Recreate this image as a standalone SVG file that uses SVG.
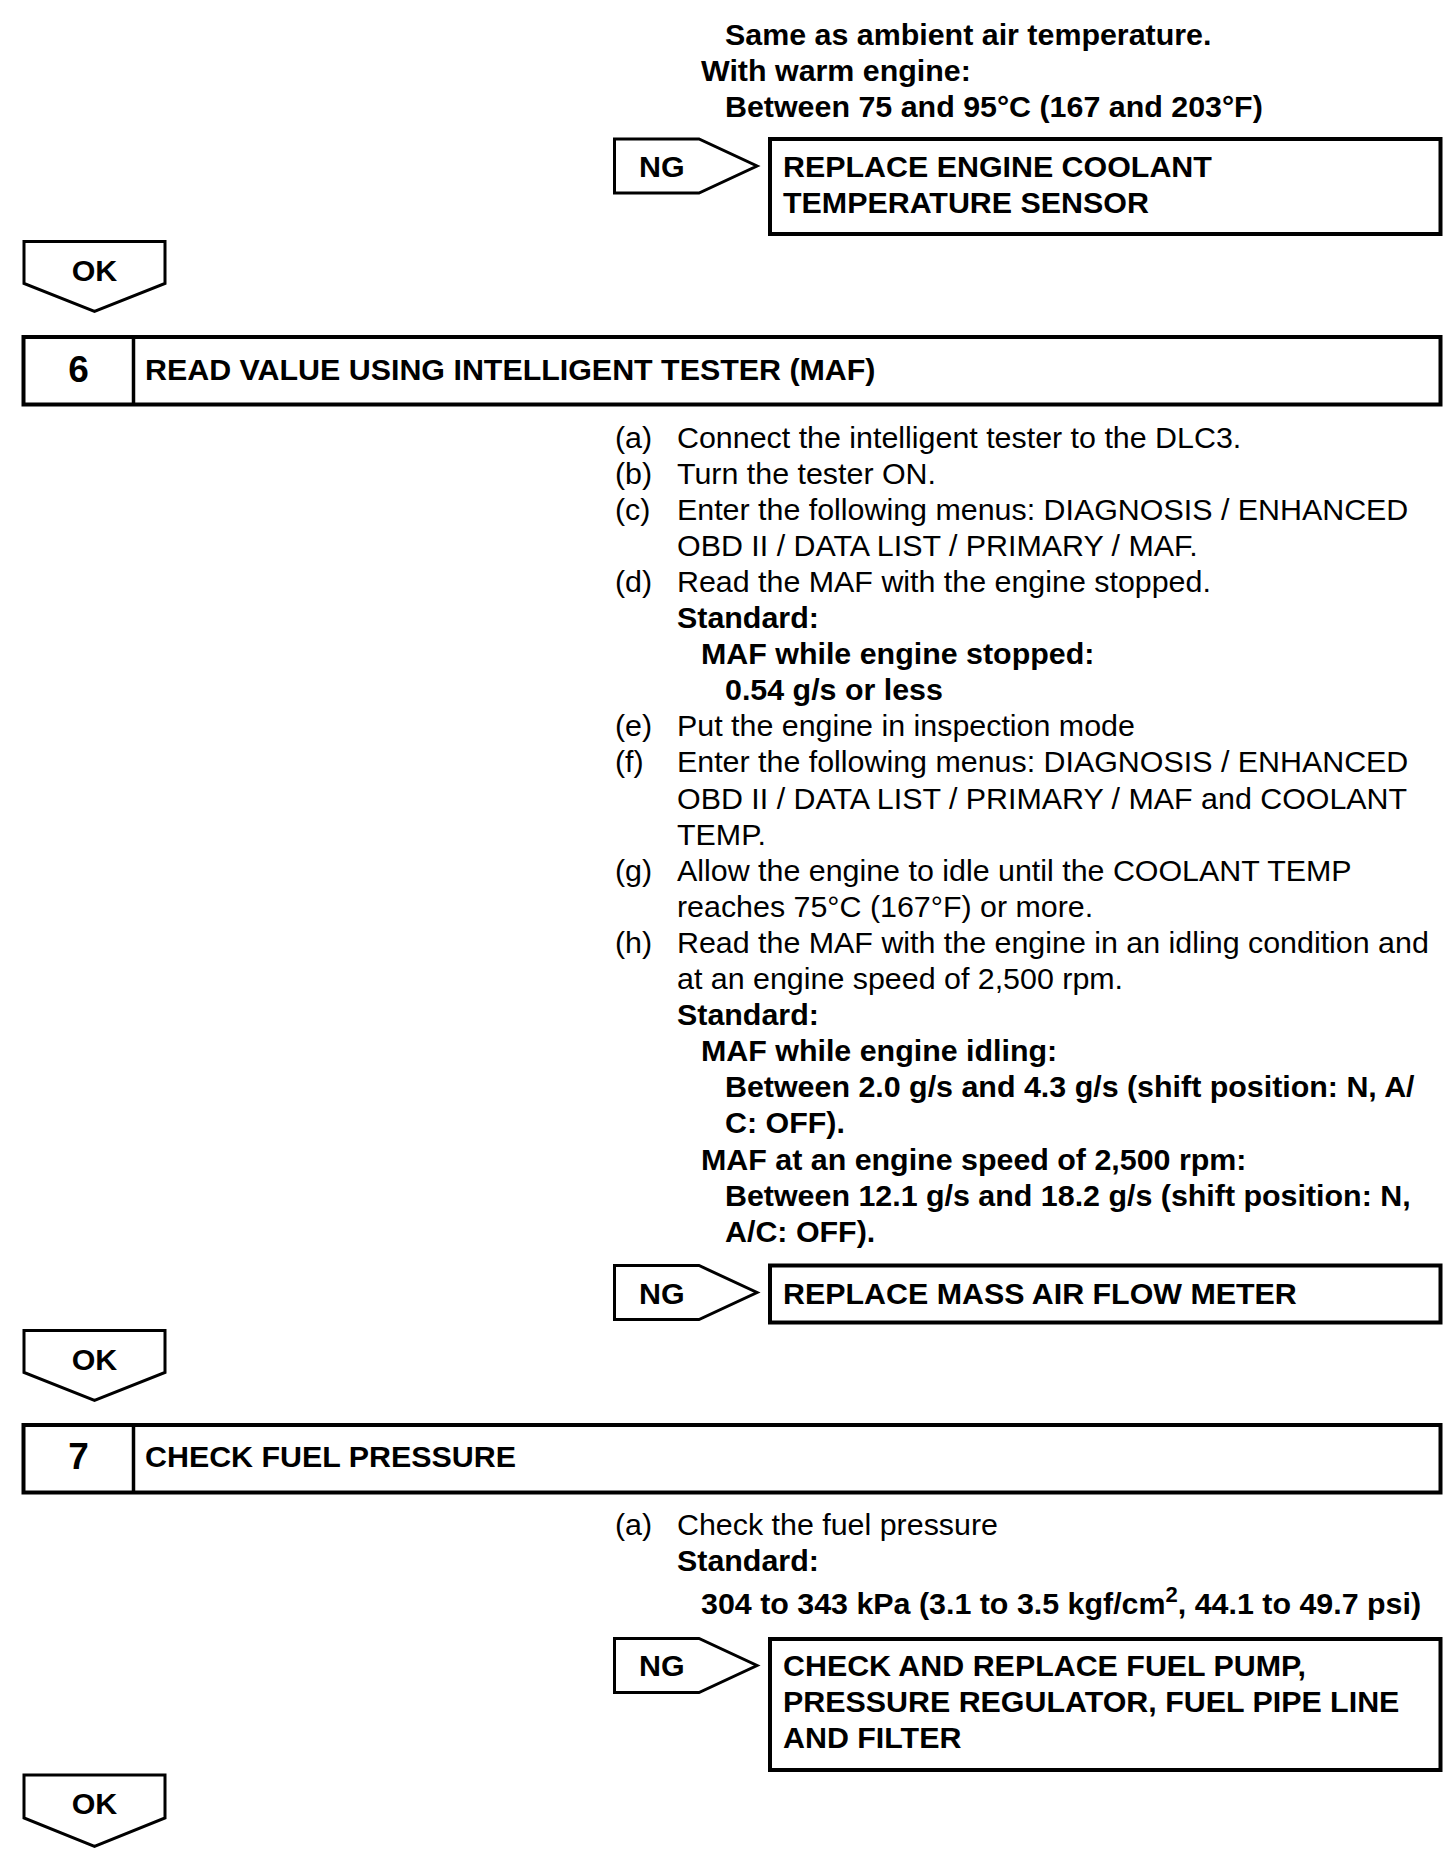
<svg xmlns="http://www.w3.org/2000/svg" width="1456" height="1854" viewBox="0 0 1456 1854">
<style>
text{font-family:"Liberation Sans",Arial,Helvetica,sans-serif;font-size:30.4px;fill:#000}
.b{font-weight:bold}
.num{font-size:37px}
.box{fill:#fff;stroke:#000;stroke-width:4}
.hd{fill:#fff;stroke:#000;stroke-width:4}
.arr{fill:#fff;stroke:#000;stroke-width:3;stroke-linejoin:miter}
.c{text-anchor:middle}
</style>
<rect width="1456" height="1854" fill="#fff"/>

<g id="spec5">
<text class="b" x="725" y="45">Same as ambient air temperature.</text>
<text class="b" x="701" y="81">With warm engine:</text>
<text class="b" x="725" y="117">Between 75 and 95°C (167 and 203°F)</text>
</g>

<g id="ng-result-5">
<rect class="box" x="770" y="139" width="670.5" height="95"/>
<text class="b" x="783" y="177">REPLACE ENGINE COOLANT</text>
<text class="b" x="783" y="213">TEMPERATURE SENSOR</text>
</g>

<g id="step6">
<rect class="hd" x="23.5" y="337" width="1417" height="67.5"/>
<line x1="133.5" y1="337" x2="133.5" y2="404.5" stroke="#000" stroke-width="3.5"/>
<text class="b c num" x="78.5" y="382">6</text>
<text class="b" x="145" y="380">READ VALUE USING INTELLIGENT TESTER (MAF)</text>
</g>

<g id="step6-body">
<text x="615" y="447.5">(a)</text><text x="677" y="447.5">Connect the intelligent tester to the DLC3.</text>
<text x="615" y="483.6">(b)</text><text x="677" y="483.6">Turn the tester ON.</text>
<text x="615" y="519.7">(c)</text><text x="677" y="519.7">Enter the following menus: DIAGNOSIS / ENHANCED</text>
<text x="677" y="555.8">OBD II / DATA LIST / PRIMARY / MAF.</text>
<text x="615" y="591.9">(d)</text><text x="677" y="591.9">Read the MAF with the engine stopped.</text>
<text class="b" x="677" y="628">Standard:</text>
<text class="b" x="701" y="664.1">MAF while engine stopped:</text>
<text class="b" x="725" y="700.2">0.54 g/s or less</text>
<text x="615" y="736.3">(e)</text><text x="677" y="736.3">Put the engine in inspection mode</text>
<text x="615" y="772.4">(f)</text><text x="677" y="772.4">Enter the following menus: DIAGNOSIS / ENHANCED</text>
<text x="677" y="808.5">OBD II / DATA LIST / PRIMARY / MAF and COOLANT</text>
<text x="677" y="844.6">TEMP.</text>
<text x="615" y="880.7">(g)</text><text x="677" y="880.7">Allow the engine to idle until the COOLANT TEMP</text>
<text x="677" y="916.8">reaches 75°C (167°F) or more.</text>
<text x="615" y="952.9">(h)</text><text x="677" y="952.9">Read the MAF with the engine in an idling condition and</text>
<text x="677" y="989">at an engine speed of 2,500 rpm.</text>
<text class="b" x="677" y="1025.1">Standard:</text>
<text class="b" x="701" y="1061.2">MAF while engine idling:</text>
<text class="b" x="725" y="1097.3">Between 2.0 g/s and 4.3 g/s (shift position: N, A/</text>
<text class="b" x="725" y="1133.4">C: OFF).</text>
<text class="b" x="701" y="1169.5">MAF at an engine speed of 2,500 rpm:</text>
<text class="b" x="725" y="1205.6">Between 12.1 g/s and 18.2 g/s (shift position: N,</text>
<text class="b" x="725" y="1241.7">A/C: OFF).</text>
</g>

<g id="ng-result-6">
<rect class="box" x="770" y="1265.5" width="670.5" height="57"/>
<text class="b" x="783" y="1304">REPLACE MASS AIR FLOW METER</text>
</g>

<g id="step7">
<rect class="hd" x="23.5" y="1425" width="1417" height="67.5"/>
<line x1="133.5" y1="1425" x2="133.5" y2="1492.5" stroke="#000" stroke-width="3.5"/>
<text class="b c num" x="78.5" y="1469">7</text>
<text class="b" x="145" y="1467">CHECK FUEL PRESSURE</text>
</g>

<g id="step7-body">
<text x="615" y="1535">(a)</text><text x="677" y="1535">Check the fuel pressure</text>
<text class="b" x="677" y="1571">Standard:</text>
<text class="b" x="701" y="1614">304 to 343 kPa (3.1 to 3.5 kgf/cm<tspan dy="-12" font-size="22">2</tspan><tspan dy="12">, 44.1 to 49.7 psi)</tspan></text>
</g>

<g id="ng-result-7">
<rect class="box" x="770" y="1639" width="670.5" height="131"/>
<text class="b" x="783" y="1676">CHECK AND REPLACE FUEL PUMP,</text>
<text class="b" x="783" y="1712">PRESSURE REGULATOR, FUEL PIPE LINE</text>
<text class="b" x="783" y="1748">AND FILTER</text>
</g>

<g id="connectors">
<g id="ng5">
<path class="arr" d="M614.5,139 H699 L757,166 L699,193 H614.5 Z"/>
<text class="b" x="639" y="177">NG</text>
</g>
<g id="ok5">
<path class="arr" d="M24,241.5 H165 V283.5 L94.5,311.5 L24,283.5 Z"/>
<text class="b c" x="94.5" y="280.5">OK</text>
</g>
<g id="ng6">
<path class="arr" d="M614.5,1265.5 H699 L757,1292.5 L699,1319.5 H614.5 Z"/>
<text class="b" x="639" y="1303.5">NG</text>
</g>
<g id="ok6">
<path class="arr" d="M24,1330.5 H165 V1372.5 L94.5,1400.5 L24,1372.5 Z"/>
<text class="b c" x="94.5" y="1369.5">OK</text>
</g>
<g id="ng7">
<path class="arr" d="M614.5,1638.5 H699 L757,1665.5 L699,1692.5 H614.5 Z"/>
<text class="b" x="639" y="1676">NG</text>
</g>
<g id="ok7">
<path class="arr" d="M24,1775 H165 V1818 L94.5,1846.5 L24,1818 Z"/>
<text class="b c" x="94.5" y="1814">OK</text>
</g>
</g>
</svg>
